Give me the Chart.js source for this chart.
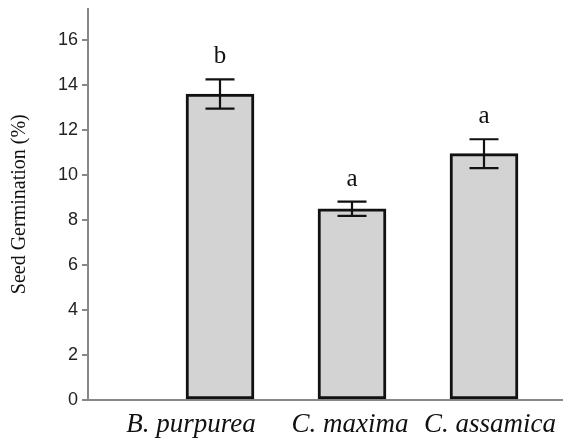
<!DOCTYPE html>
<html>
<head>
<meta charset="utf-8">
<script src="https://cdn.jsdelivr.net/npm/chart.js@4.4.1/dist/chart.umd.min.js"></script>
<style>
html,body{margin:0;padding:0;background:#fff;}
#wrap{width:563px;height:439px;}
</style>
</head>
<body>
<div id="wrap"><canvas id="c" width="563" height="439"></canvas></div>
<script>
const categories = ['B. purpurea', 'C. maxima', 'C. assamica'];
const germination = [13.6, 8.5, 10.95];
const errors = [0.65, 0.32, 0.64];
const letters = ['b', 'a', 'a'];
const yTicks = [0, 2, 4, 6, 8, 10, 12, 14, 16];

const errorPlugin = {
  id: 'errorLetters',
  afterDatasetsDraw(chart, args, opts) {
    const ctx = chart.ctx;
    const xs = chart.scales.x, ys = chart.scales.y;
    ctx.save();
    ctx.strokeStyle = '#111';
    ctx.lineWidth = 2.2;
    categories.forEach((c, i) => {
      const x = xs.getPixelForValue(i + 1);
      const yTop = ys.getPixelForValue(germination[i] + errors[i]);
      const yBot = ys.getPixelForValue(germination[i] - errors[i]);
      const hw = 14.5;
      ctx.beginPath();
      ctx.moveTo(x, yTop); ctx.lineTo(x, yBot);
      ctx.moveTo(x - hw, yTop); ctx.lineTo(x + hw, yTop);
      ctx.moveTo(x - hw, yBot); ctx.lineTo(x + hw, yBot);
      ctx.stroke();
      ctx.fillStyle = '#111';
      ctx.font = '25px "Liberation Serif", "Times New Roman", serif';
      ctx.textAlign = 'center';
      ctx.textBaseline = 'alphabetic';
      ctx.fillText(letters[i], x, yTop - 16);
    });
    // category labels under the x axis
    ctx.font = 'italic 27px "Liberation Serif", "Times New Roman", serif';
    ctx.textBaseline = 'alphabetic';
    categories.forEach((c, i) => {
      const x = xs.getPixelForValue(i + 1) + opts.nudge[i];
      ctx.fillText(c, x, xs.bottom - 7);
    });
    ctx.restore();
  }
};

new Chart(document.getElementById('c'), {
  type: 'bar',
  data: {
    datasets: [{
      data: germination.map((v, i) => ({ x: i + 1, y: v })),
      backgroundColor: '#d3d3d3',
      borderColor: '#111',
      borderWidth: 3,
      borderSkipped: false,
      barThickness: 68
    }]
  },
  options: {
    responsive: false,
    animation: false,
    events: [],
    layout: { padding: { top: 8.5, right: 1, left: 0, bottom: 0 } },
    plugins: {
      legend: { display: false },
      tooltip: { enabled: false },
      errorLetters: { nudge: [-29, -2, 6] }
    },
    scales: {
      x: {
        type: 'linear',
        offset: false,
        min: 0,
        max: 474 / 132,
        afterBuildTicks(scale) { scale.ticks = categories.map((c, i) => ({ value: i + 1 })); },
        afterFit(scale) { scale.height = 39; scale.paddingLeft = 0; scale.paddingRight = 0; },
        ticks: { display: false },
        grid: { display: false, drawTicks: false },
        border: { display: true, color: '#888', width: 2 }
      },
      y: {
        min: 0,
        max: 17.4,
        afterBuildTicks(scale) { scale.ticks = yTicks.map(v => ({ value: v })); },
        afterFit(scale) { scale.width = 88; scale.paddingTop = 0; scale.paddingBottom = 0; },
        ticks: {
          padding: 4,
          color: '#222',
          font: { family: '"Liberation Sans", Arial, sans-serif', size: 18 }
        },
        grid: { drawOnChartArea: false, drawTicks: true, tickLength: 6, color: '#888', lineWidth: 2 },
        border: { display: true, color: '#888', width: 2 },
        title: {
          display: true,
          text: 'Seed Germination (%)',
          color: '#111',
          padding: { top: 8, bottom: 0 },
          font: { family: '"Liberation Serif", "Times New Roman", serif', size: 20 }
        }
      }
    }
  },
  plugins: [errorPlugin]
});
</script>
</body>
</html>
